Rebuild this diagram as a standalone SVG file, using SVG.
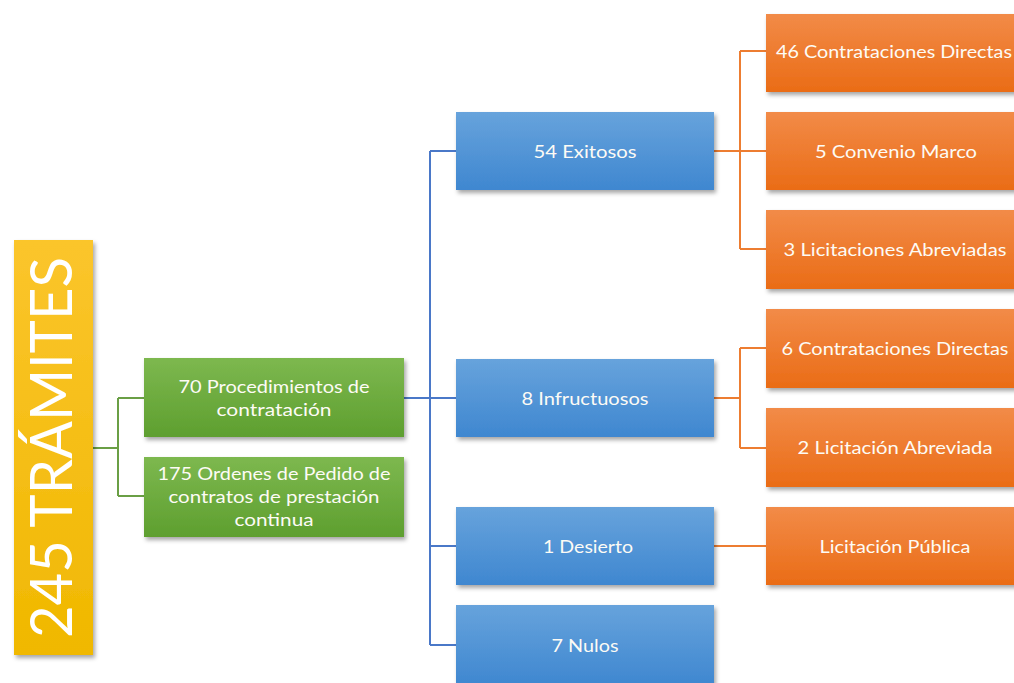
<svg xmlns="http://www.w3.org/2000/svg" width="1014" height="683" viewBox="0 0 1014 683">
<style>
.t{font-family:Lato,"Open Sans","Liberation Sans",sans-serif;font-size:18px;fill:#FDFBF5;text-anchor:middle}
.big{font-family:Lato,"Open Sans","Liberation Sans",sans-serif;font-size:58px;font-weight:400;fill:#FFFFFF;text-anchor:middle}
.cg{stroke:#6A9F45;stroke-width:2;fill:none}
.cb{stroke:#4A78C8;stroke-width:2;fill:none}
.co{stroke:#ED7D31;stroke-width:2;fill:none}
</style>
<defs>
<linearGradient id="gy" x1="0" y1="0" x2="0" y2="1"><stop offset="0" stop-color="#FBC52C"/><stop offset="1" stop-color="#F0B800"/></linearGradient>
<linearGradient id="gg" x1="0" y1="0" x2="0" y2="1"><stop offset="0" stop-color="#7DB84F"/><stop offset="1" stop-color="#5E9F2F"/></linearGradient>
<linearGradient id="gb" x1="0" y1="0" x2="0" y2="1"><stop offset="0" stop-color="#67A3DC"/><stop offset="1" stop-color="#3F87D0"/></linearGradient>
<linearGradient id="go" x1="0" y1="0" x2="0" y2="1"><stop offset="0" stop-color="#F28B48"/><stop offset="1" stop-color="#EA6C16"/></linearGradient>
<filter id="sh" x="-10%" y="-10%" width="130%" height="130%"><feDropShadow dx="2" dy="3" stdDeviation="2" flood-color="#000" flood-opacity="0.35"/></filter>
</defs>
<rect width="1014" height="683" fill="#FFFFFF"/>
<g id="connectors">
<path class="cg" d="M93 448H118M118 398V496M118 398H144M118 496H144"/>
<path class="cb" d="M404 398H456M430 151V645M430 151H456M430 546H456M430 645H456"/>
<path class="co" d="M714 151H766M740 51V249M740 51H766M740 249H766"/>
<path class="co" d="M714 398H740M740 348V448M740 348H766M740 448H766"/>
<path class="co" d="M714 546H766"/>
</g>
<g id="n-tramites"><rect x="14" y="240" width="79" height="415" fill="url(#gy)" filter="url(#sh)"/><text class="big" transform="translate(72,447.5) rotate(-90)" textLength="381" lengthAdjust="spacingAndGlyphs">245 TRÁMITES</text></g>
<g id="n-proc"><rect x="144" y="358" width="260" height="79" fill="url(#gg)" filter="url(#sh)"/><text class="t" x="274" y="393" textLength="191" lengthAdjust="spacingAndGlyphs">70 Procedimientos de</text><text class="t" x="274" y="416" textLength="115" lengthAdjust="spacingAndGlyphs">contratación</text></g>
<g id="n-ordenes"><rect x="144" y="457" width="260" height="80" fill="url(#gg)" filter="url(#sh)"/><text class="t" x="274" y="480" textLength="233" lengthAdjust="spacingAndGlyphs">175 Ordenes de Pedido de</text><text class="t" x="274" y="503" textLength="211" lengthAdjust="spacingAndGlyphs">contratos de prestación</text><text class="t" x="274" y="526" textLength="79" lengthAdjust="spacingAndGlyphs">continua</text></g>
<g id="n-exitosos"><rect x="456" y="112" width="258" height="78" fill="url(#gb)" filter="url(#sh)"/><text class="t" x="585" y="158" textLength="103" lengthAdjust="spacingAndGlyphs">54 Exitosos</text></g>
<g id="n-infructuosos"><rect x="456" y="359" width="258" height="78" fill="url(#gb)" filter="url(#sh)"/><text class="t" x="585" y="405" textLength="127" lengthAdjust="spacingAndGlyphs">8 Infructuosos</text></g>
<g id="n-desierto"><rect x="456" y="507" width="258" height="78" fill="url(#gb)" filter="url(#sh)"/><text class="t" x="588" y="553" textLength="90" lengthAdjust="spacingAndGlyphs">1 Desierto</text></g>
<g id="n-nulos"><rect x="456" y="605" width="258" height="80" fill="url(#gb)" filter="url(#sh)"/><text class="t" x="585" y="652" textLength="67" lengthAdjust="spacingAndGlyphs">7 Nulos</text></g>
<g id="n-cd46"><rect x="766" y="14" width="258" height="78" fill="url(#go)" filter="url(#sh)"/><text class="t" x="894" y="58" textLength="236" lengthAdjust="spacingAndGlyphs">46 Contrataciones Directas</text></g>
<g id="n-cm5"><rect x="766" y="112" width="258" height="78" fill="url(#go)" filter="url(#sh)"/><text class="t" x="896" y="158" textLength="162" lengthAdjust="spacingAndGlyphs">5 Convenio Marco</text></g>
<g id="n-la3"><rect x="766" y="210" width="258" height="79" fill="url(#go)" filter="url(#sh)"/><text class="t" x="895" y="256" textLength="223" lengthAdjust="spacingAndGlyphs">3 Licitaciones Abreviadas</text></g>
<g id="n-cd6"><rect x="766" y="309" width="258" height="79" fill="url(#go)" filter="url(#sh)"/><text class="t" x="895" y="355" textLength="227" lengthAdjust="spacingAndGlyphs">6 Contrataciones Directas</text></g>
<g id="n-la2"><rect x="766" y="408" width="258" height="79" fill="url(#go)" filter="url(#sh)"/><text class="t" x="895" y="454" textLength="195" lengthAdjust="spacingAndGlyphs">2 Licitación Abreviada</text></g>
<g id="n-lp"><rect x="766" y="507" width="258" height="78" fill="url(#go)" filter="url(#sh)"/><text class="t" x="895" y="553" textLength="151" lengthAdjust="spacingAndGlyphs">Licitación Pública</text></g>
</svg>
